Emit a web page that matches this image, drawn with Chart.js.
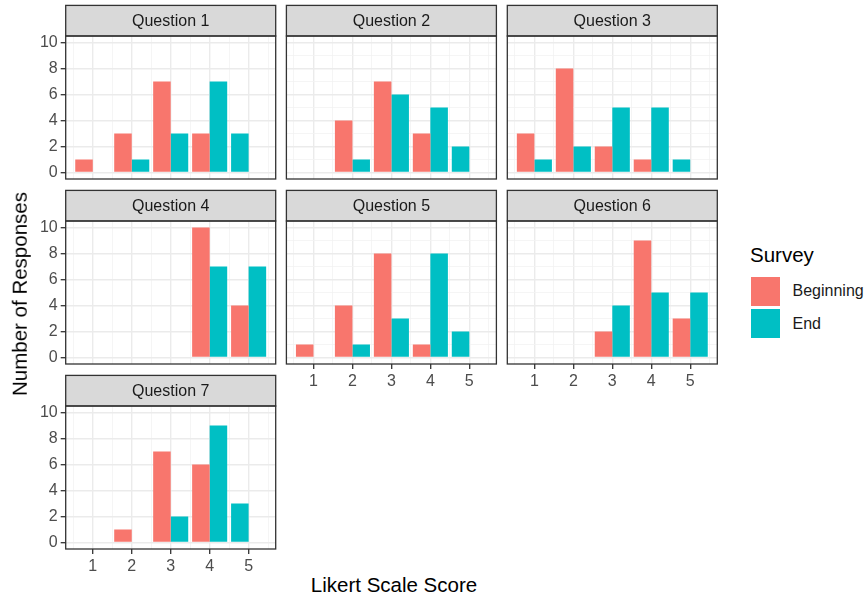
<!DOCTYPE html>
<html><head><meta charset="utf-8">
<script src="https://cdn.jsdelivr.net/npm/chart.js@4/dist/chart.umd.min.js"></script>
<style>
body{margin:0;background:#fff;width:868px;height:598px;position:relative;overflow:hidden;font-family:"Liberation Sans",Arial,sans-serif}
canvas{position:absolute}
.t{position:absolute;white-space:nowrap;line-height:1}
.key{position:absolute;width:29px;height:29px}
</style></head><body>
<div id="holder"></div>
<div class="t" style="font-size:20.5px;color:#000;left:20px;top:294px;transform:translate(-50%,-50%) rotate(-90deg)">Number of Responses</div>
<div class="t" style="font-size:20.5px;color:#000;left:394px;top:585px;transform:translate(-50%,-50%)">Likert Scale Score</div>
<div class="t" style="font-size:20.5px;color:#000;left:750px;top:245.3px">Survey</div>
<div class="key" style="left:751px;top:276.5px;background:#F8766D"></div>
<div class="key" style="left:751px;top:309px;background:#00BFC4"></div>
<div class="t" style="font-size:16px;color:#1A1A1A;left:792.5px;top:283px">Beginning</div>
<div class="t" style="font-size:16px;color:#1A1A1A;left:792.5px;top:315.5px">End</div>
<script>
// ---- data ----
const scores = [1, 2, 3, 4, 5];
const questions = ['Question 1','Question 2','Question 3','Question 4','Question 5','Question 6','Question 7'];
const seriesNames = ['Beginning', 'End'];
const seriesColors = ['#F8766D', '#00BFC4'];
const yTicks = [0, 2, 4, 6, 8, 10];
const q1Beginning = [1, 3, 7, 3, 0];
const q1End       = [0, 1, 3, 7, 3];
const q2Beginning = [0, 4, 7, 3, 0];
const q2End       = [0, 1, 6, 5, 2];
const q3Beginning = [3, 8, 2, 1, 0];
const q3End       = [1, 2, 5, 5, 1];
const q4Beginning = [0, 0, 0, 10, 4];
const q4End       = [0, 0, 0, 7, 7];
const q5Beginning = [1, 4, 8, 1, 0];
const q5End       = [0, 1, 3, 8, 2];
const q6Beginning = [0, 0, 2, 9, 3];
const q6End       = [0, 0, 4, 5, 5];
const q7Beginning = [0, 1, 7, 6, 0];
const q7End       = [0, 0, 2, 9, 3];
const beginningSeries = [q1Beginning,q2Beginning,q3Beginning,q4Beginning,q5Beginning,q6Beginning,q7Beginning];
const endSeries = [q1End,q2End,q3End,q4End,q5End,q6End,q7End];

// ggplot position_dodge(preserve = "single"): a lone bar takes the first (left) slot
function dodgeSlots(b, e) {
  const left = [], leftSeries = [], right = [], rightSeries = [];
  for (let k = 0; k < b.length; k++) {
    if (b[k] > 0 && e[k] > 0) { left.push(b[k]); leftSeries.push(0); right.push(e[k]); rightSeries.push(1); }
    else if (e[k] > 0)        { left.push(e[k]); leftSeries.push(1); right.push(0); rightSeries.push(1); }
    else                      { left.push(b[k]); leftSeries.push(0); right.push(0); rightSeries.push(1); }
  }
  return [[left, leftSeries], [right, rightSeries]];
}

// ---- layout ----
const colLeft = [65.7, 286.4, 507.3];
const rowTop = [5.4, 190.4, 375.4];
const plotW = 210, plotH = 143, stripH = 30.6;
const AXW = 40, AXH = 30;
const X_MIN = 0.305, X_MAX = 5.695;
const FONT = '"Liberation Sans", Arial, sans-serif';
Chart.defaults.font.family = FONT;

const stripPlugin = {
  id: 'strip',
  afterDraw(chart, args, opts) {
    const a = chart.chartArea, ctx = chart.ctx;
    ctx.save();
    ctx.fillStyle = '#D9D9D9';
    ctx.strokeStyle = '#333333';
    ctx.lineWidth = 1.3;
    ctx.fillRect(a.left, a.top - stripH, a.right - a.left, stripH);
    ctx.strokeRect(a.left, a.top - stripH, a.right - a.left, stripH);
    ctx.strokeRect(a.left, a.top, a.right - a.left, a.bottom - a.top);
    ctx.fillStyle = '#1A1A1A';
    ctx.font = '16px ' + FONT;
    ctx.textAlign = 'center';
    ctx.textBaseline = 'middle';
    ctx.fillText(opts.text, (a.left + a.right) / 2, a.top - stripH / 2 + 0.5);
    ctx.restore();
  }
};

const holder = document.getElementById('holder');
questions.forEach((q, i) => {
  const col = i % 3, row = Math.floor(i / 3);
  const showY = col === 0;
  const showX = (i >= 4);
  const pl = colLeft[col], pt = rowTop[row];
  const cLeft = Math.floor(pl - AXW - 4);
  const cTop = Math.floor(pt - 3);
  const cW = Math.ceil(pl + plotW + 4 - cLeft);
  const padLeft = pl - AXW - cLeft;
  const padTop = pt + stripH - cTop;
  const cH = Math.ceil(padTop + plotH + AXH + 2);
  const padRight = cW - (pl + plotW - cLeft);
  const padBottom = cH - padTop - plotH - AXH;
  const cv = document.createElement('canvas');
  cv.width = cW; cv.height = cH;
  cv.style.left = cLeft + 'px'; cv.style.top = cTop + 'px';
  cv.style.width = cW + 'px'; cv.style.height = cH + 'px';
  holder.appendChild(cv);
  const slots = dodgeSlots(beginningSeries[i], endSeries[i]);
  new Chart(cv, {
    type: 'bar',
    data: {
      datasets: slots.map(([vals, ser], s) => ({
        label: seriesNames[s],
        data: scores.map((x, k) => ({ x: x, y: vals[k] })),
        backgroundColor: c => seriesColors[ser[c.dataIndex]],
        borderWidth: 0,
        categoryPercentage: 0.9,
        barPercentage: 1.0,
        xAxisID: 'x', yAxisID: 'y'
      }))
    },
    options: {
      responsive: false,
      animation: false,
      devicePixelRatio: 1,
      layout: { padding: { left: padLeft, top: padTop, right: padRight, bottom: padBottom } },
      plugins: { legend: { display: false }, tooltip: { enabled: false }, strip: { text: q } },
      scales: {
        x: {
          type: 'linear', position: 'bottom', min: X_MIN, max: X_MAX, offset: false,
          afterBuildTicks: s => { s.ticks = scores.map(v => ({ value: v })); },
          afterFit: s => { s.height = AXH; },
          ticks: { display: showX, color: '#4D4D4D', font: { size: 16 }, padding: 3, maxRotation: 0,
                   callback: v => String(v) },
          grid: { offset: false, color: '#EBEBEB', lineWidth: 1.4, tickLength: 5,
                  tickColor: showX ? '#333333' : 'rgba(0,0,0,0)', tickWidth: 1.3 },
          border: { display: false }
        },
        xMinor: {
          type: 'linear', position: 'bottom', min: X_MIN, max: X_MAX, offset: false,
          afterBuildTicks: s => { s.ticks = scores.map(v => ({ value: v - 0.5 })).concat([{ value: 5.5 }]); },
          afterFit: s => { s.height = 0; },
          ticks: { display: false },
          grid: { offset: false, color: '#F3F3F3', lineWidth: 0.8, drawTicks: false },
          border: { display: false }
        },
        y: {
          type: 'linear', position: 'left', min: -0.5, max: 10.5,
          afterBuildTicks: s => {
            const t = [];
            for (let v = 0; v <= 10; v++) t.push({ value: v });
            s.ticks = t;
          },
          afterFit: s => { s.width = AXW; },
          ticks: { display: showY, color: '#4D4D4D', font: { size: 16 }, padding: 3,
                   callback: v => (yTicks.includes(v) ? String(v) : '') },
          grid: {
            color: c => (c.tick && yTicks.includes(c.tick.value)) ? '#EBEBEB' : '#F3F3F3',
            lineWidth: c => (c.tick && yTicks.includes(c.tick.value)) ? 1.4 : 0.8,
            tickLength: 5,
            tickColor: c => (showY && c.tick && yTicks.includes(c.tick.value)) ? '#333333' : 'rgba(0,0,0,0)',
            tickWidth: 1.3
          },
          border: { display: false }
        }
      }
    },
    plugins: [stripPlugin]
  });
});
</script>
</body></html>
